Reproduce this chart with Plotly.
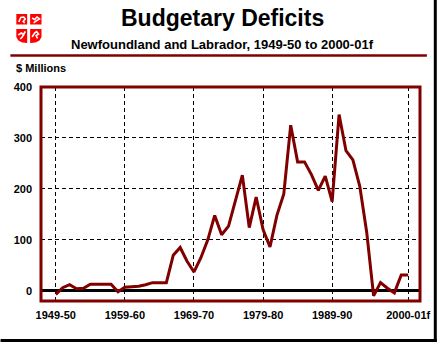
import plotly.graph_objects as go

# ---- data ----
years = list(range(1949, 2001))  # fiscal years 1949-50 .. 2000-01
deficits = [-7, 6, 12, 4, 5, 13, 13, 13, 13, -2,
            7, 8, 9, 12, 16, 16, 16, 70, 85, 58,
            37, 65, 100, 148, 110, 127, 175, 227, 124, 184,
            120, 86, 148, 190, 325, 253, 253, 228, 197, 225,
            175, 346, 275, 257, 205, 115, -10, 16, 5, -4,
            31, 31]
tick_years = [1949, 1959, 1969, 1979, 1989, 2000]
tick_labels = ["1949-50", "1959-60", "1969-70", "1979-80", "1989-90", "2000-01f"]
y_ticks = [0, 100, 200, 300, 400]

W, H = 442, 342
L, R, T, B = 41, 425, 87, 301
DARK = "#800000"
FONT = "Liberation Sans"


def px(x):
    return (x - L) / (R - L)


def py(y):
    return (B - y) / (B - T)


fig = go.Figure()
fig.add_trace(go.Scatter(x=years, y=deficits, mode="lines",
                         line=dict(color=DARK, width=3), hoverinfo="skip"))

shapes = []
# plot frame
shapes.append(dict(type="rect", xref="paper", yref="paper", x0=0, y0=0, x1=1, y1=1,
                   line=dict(color=DARK, width=3), layer="above"))
# separator rule under subtitle
shapes.append(dict(type="line", xref="paper", yref="paper", x0=px(10), x1=px(432),
                   y0=py(55.5), y1=py(55.5), line=dict(color=DARK, width=2.5)))
# outer black border (right and bottom)
shapes.append(dict(type="line", xref="paper", yref="paper", x0=px(440.5), x1=px(440.5),
                   y0=py(0), y1=py(342), line=dict(color="black", width=3)))
shapes.append(dict(type="line", xref="paper", yref="paper", x0=px(0), x1=px(442),
                   y0=py(340.5), y1=py(340.5), line=dict(color="black", width=3)))


def path(points, close=True):
    s = "M " + " L ".join(f"{px(a):.5f},{py(b):.5f}" for a, b in points)
    return s + (" Z" if close else "")


RED = "#ff0000"
# logo: quartered shield
shapes.append(dict(type="path", xref="paper", yref="paper",
                   path=path([(16, 14), (27, 14), (27, 24.5), (16, 24.5)]),
                   fillcolor=RED, line=dict(width=0)))
shapes.append(dict(type="path", xref="paper", yref="paper",
                   path=path([(30, 14), (41.5, 14), (41.5, 24.5), (30, 24.5)]),
                   fillcolor=RED, line=dict(width=0)))
shapes.append(dict(type="path", xref="paper", yref="paper",
                   path=path([(16, 29), (27, 29), (27, 43), (22, 42.5), (18, 40.5), (16, 37)]),
                   fillcolor=RED, line=dict(width=0)))
shapes.append(dict(type="path", xref="paper", yref="paper",
                   path=path([(30, 29), (41.5, 29), (41.5, 37), (39.5, 40.5), (35.5, 42.5), (30, 43)]),
                   fillcolor=RED, line=dict(width=0)))
# white figures in the shield quarters
for pts in [
    [(18.5, 22), (20.5, 17.5), (23.5, 17), (25, 19), (23, 21.5), (24.5, 23)],
    [(32, 18), (34.5, 19.5), (37, 17), (39.5, 19), (36, 21), (33.5, 23)],
    [(18, 35), (21, 33), (23.5, 34.5), (25, 31.5), (22, 37), (20, 39)],
    [(32, 37), (34.5, 33), (36.5, 31.5), (38.5, 34), (36, 35.5), (37.5, 38.5)],
]:
    shapes.append(dict(type="path", xref="paper", yref="paper", path=path(pts, close=False),
                       line=dict(color="white", width=1.6)))

annotations = [
    dict(text="Budgetary Deficits", x=px(224.5), y=py(18), xref="paper", yref="paper",
         xanchor="center", yanchor="middle", showarrow=False,
         font=dict(family=FONT, size=23, color="black", weight="bold")),
    dict(text="Newfoundland and Labrador, 1949-50 to 2000-01f", x=px(224.5), y=py(44),
         xref="paper", yref="paper", xanchor="center", yanchor="middle", showarrow=False,
         font=dict(family=FONT, size=13, color="black", weight="bold")),
    dict(text="$ Millions", x=px(14), y=py(68), xref="paper", yref="paper",
         xanchor="left", yanchor="middle", showarrow=False,
         font=dict(family=FONT, size=11, color="black", weight="bold")),
]

fig.update_layout(
    width=W, height=H,
    margin=dict(l=L, r=W - R, t=T, b=H - B, pad=0),
    paper_bgcolor="white", plot_bgcolor="white",
    showlegend=False,
    shapes=shapes, annotations=annotations,
    xaxis=dict(range=[1949 - 15 / 7, 1949 + 369 / 7], tickvals=tick_years, ticktext=tick_labels,
               showgrid=True, gridcolor="black", gridwidth=1, griddash="4px,3px",
               zeroline=False, showline=False, ticks="", ticklabelstandoff=6,
               tickfont=dict(family=FONT, size=11, color="black", weight="bold")),
    yaxis=dict(range=[-20, 400], tickvals=y_ticks, ticktext=[str(v) for v in y_ticks],
               showgrid=True, gridcolor="black", gridwidth=1, griddash="4px,3px",
               zeroline=True, zerolinecolor="black", zerolinewidth=2.5,
               showline=False, ticks="", ticklabelstandoff=8,
               tickfont=dict(family=FONT, size=11, color="black", weight="bold")),
)

fig.write_html("out.html")
